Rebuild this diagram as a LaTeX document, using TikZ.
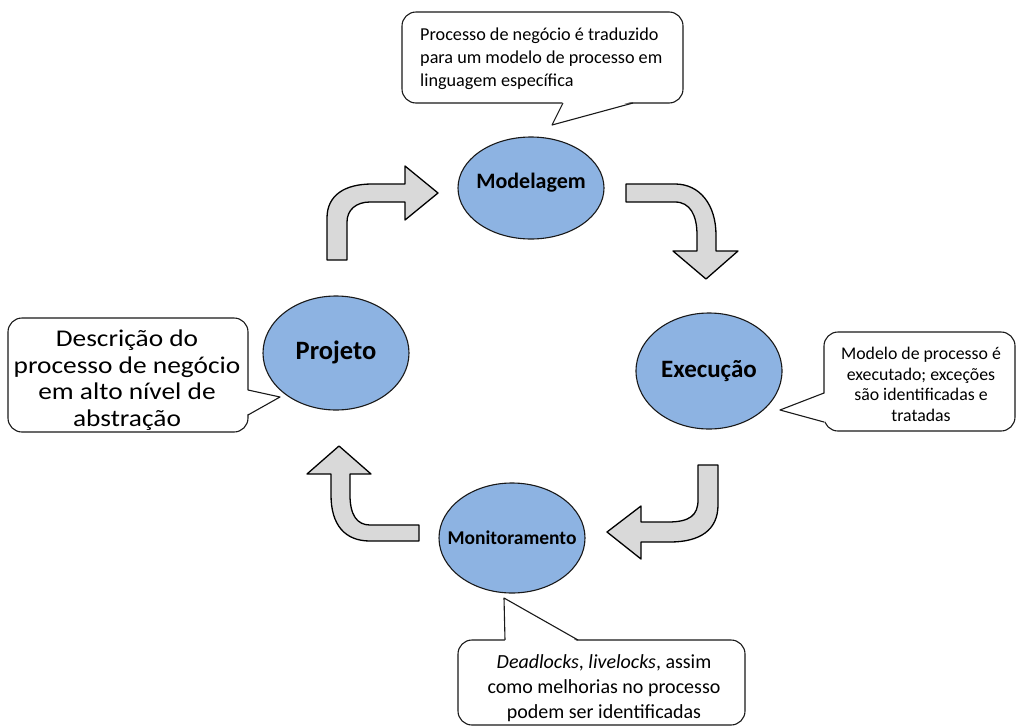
\documentclass[tikz,border=0pt]{standalone}
\usepackage{fontspec}
\setmainfont{Carlito}
\newfontfamily\wideleft[FakeStretch=1.14]{Carlito}
\usetikzlibrary{shapes.geometric}
\definecolor{ellblue}{RGB}{141,179,226}
\definecolor{arrgray}{RGB}{217,217,217}
\definecolor{edge}{RGB}{25,25,25}
\begin{document}
\begin{tikzpicture}[x=1pt,y=-1pt,
  phase/.style={ellipse, draw=edge, line width=1.1pt, fill=ellblue, inner sep=0pt,
     minimum width=146pt},
  plabel/.style={inner sep=0pt, font=\bfseries},
  callbox/.style={draw=edge, line width=1.1pt, fill=white, rounded corners=14pt, inner sep=0pt},
  pointer/.style={draw=edge, line width=1.1pt, line join=round},
  ctext/.style={inner sep=0pt, align=center},
  bigarrow/.style={draw=black, line width=1.3pt, fill=arrgray, line join=round}
]
\useasboundingbox (0,0) rectangle (1018,726);

% ellipses
\node[phase, minimum height=102pt] (mod) at (531,188) {};
\node[plabel, font=\fontsize{22}{26}\selectfont\bfseries] (modt) at (531,183) {Modelagem};
\node[phase, minimum height=114pt] (proj) at (336,353) {};
\node[plabel, font=\fontsize{26.5}{30}\selectfont\bfseries] (projt) at (336,352) {Projeto};
\node[phase, minimum height=116pt] (exec) at (709,371) {};
\node[plabel, font=\fontsize{25}{29}\selectfont\bfseries] (exect) at (709,371) {Execução};
\node[phase, minimum height=110pt] (mon) at (512,538) {};
\node[plabel, font=\fontsize{19.5}{23}\selectfont\bfseries] (mont) at (512,538) {Monitoramento};

% block arrows
\draw[bigarrow] (327,260) -- (327,218) .. controls (327,195) and (345,184) .. (372,184)
  -- (405,184) -- (405,166) -- (438,193) -- (405,220) -- (405,202) -- (370,202)
  .. controls (356,202) and (347,210) .. (347,222) -- (347,260) -- cycle;
\draw[bigarrow] (626,184) -- (675,184) .. controls (700,184) and (716,205) .. (716,235)
  -- (716,251) -- (738,251) -- (706,279) -- (673,251) -- (697,251) -- (697,235)
  .. controls (697,215) and (690,202) .. (675,202) -- (626,202) -- cycle;
\draw[bigarrow] (698,465) -- (718,465) -- (718,505) .. controls (718,530) and (700,542) .. (670,542)
  -- (641,542) -- (641,559) -- (607,532) -- (641,506) -- (641,522) -- (668,522)
  .. controls (690,522) and (698,515) .. (698,500) -- cycle;
\draw[bigarrow] (419,525) -- (370,525) .. controls (357,525) and (350,515) .. (350,495)
  -- (350,474) -- (371,474) -- (339,446) -- (307,474) -- (331,474) -- (331,495)
  .. controls (331,525) and (345,541) .. (370,541) -- (419,541) -- cycle;

% callout: top
\node[callbox, minimum width=281pt, minimum height=91pt] (c1) at (542.5,57.5) {};
\coordinate (c1a) at (563,103); \coordinate (c1t) at (552,125); \coordinate (c1b) at (633,103);
\fill[white] (563,101.3) -- (c1t) -- (633,101.3) -- cycle;
\draw[pointer] (c1a) -- (c1t) -- (c1b);
\node[inner sep=0pt, align=left, anchor=west, font=\fontsize{18.2}{23}\selectfont] (c1x) at (420,59)
  {Processo de negócio é traduzido\\para um modelo de processo em\\linguagem específica};

% callout: left
\node[callbox, minimum width=240pt, minimum height=114pt] (c2) at (128,375) {};
\coordinate (c2a) at (248,390); \coordinate (c2t) at (280,397); \coordinate (c2b) at (248,415);
\fill[white] (246.3,390) -- (c2t) -- (246.3,415) -- cycle;
\draw[pointer] (c2a) -- (c2t) -- (c2b);
\node[ctext, font=\wideleft\fontsize{24}{26.5}\selectfont] (c2x) at (127,380)
  {Descrição do\\processo de negócio\\em alto nível de\\abstração};

% callout: right
\node[callbox, minimum width=191pt, minimum height=99pt] (c3) at (919.5,381.5) {};
\coordinate (c3a) at (824,393); \coordinate (c3t) at (780,410); \coordinate (c3b) at (824,422);
\fill[white] (825.7,393) -- (c3t) -- (825.7,422) -- cycle;
\draw[pointer] (c3a) -- (c3t) -- (c3b);
\node[ctext, font=\fontsize{17.8}{20.7}\selectfont] (c3x) at (921,384.5)
  {Modelo de processo é\\executado; exceções\\são identificadas e\\tratadas};

% callout: bottom
\node[callbox, minimum width=287pt, minimum height=85pt] (c4) at (601.5,682.5) {};
\coordinate (c4a) at (505,640); \coordinate (c4t) at (504,598); \coordinate (c4b) at (578,640);
\fill[white] (505,641.7) -- (c4t) -- (578,641.7) -- cycle;
\draw[pointer] (c4a) -- (c4t) -- (c4b);
\node[ctext, font=\fontsize{20}{25}\selectfont] (c4x) at (604,688)
  {\textit{Deadlocks}, \textit{livelocks}, assim\\como melhorias no processo\\podem ser identificadas};
\end{tikzpicture}
\end{document}
